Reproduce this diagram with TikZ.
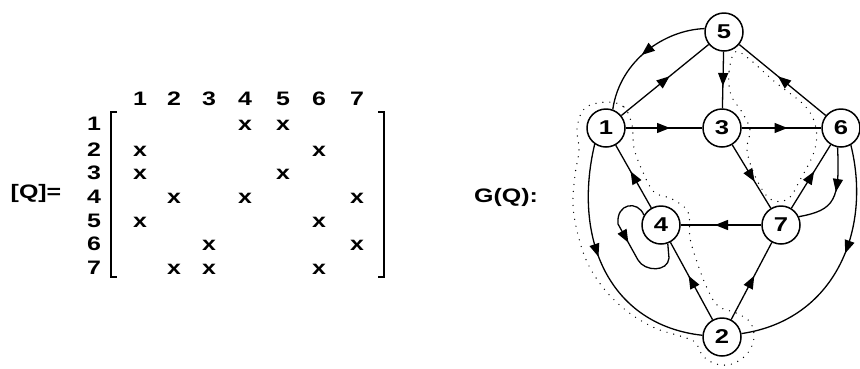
\documentclass[tikz,border=0pt]{standalone}
\usepackage{fontspec}
\setmainfont[FakeStretch=1.28]{Liberation Sans}
\usetikzlibrary{arrows.meta,decorations.markings}
\begin{document}
\begin{tikzpicture}[x=1pt,y=-1pt,
  lbl/.style={font=\fontsize{19.5}{21}\selectfont\bfseries, inner sep=0pt},
  vtx/.style={circle, draw, line width=1.5pt, minimum size=38pt, inner sep=0pt, font=\fontsize{20}{21}\selectfont\bfseries},
  conn/.style={line width=1.3pt},
  midarrow/.style={postaction={decorate}, decoration={markings, mark=at position #1 with {\arrow[xshift=6pt]{Triangle[length=13pt,width=10pt]}}}},
  midarrow/.default=0.5,
  loopdots/.style={line width=1.4pt, dash pattern=on 0pt off 7pt, line cap=round},
  brk/.style={line width=1.3pt}
]
\useasboundingbox (0,0) rectangle (860,368);

% ---------- matrix ----------
\node[lbl] (qlab) at (36,193) {[Q]=};
\node[lbl] (glab) at (506,197) {G(Q):};
\foreach \c/\xx in {1/140,2/174,3/209,4/245,5/283,6/319,7/357}
  \node[lbl, anchor=base] (col\c) at (\xx,105) {\c};
\foreach \r/\yy in {1/123,2/149,3/172,4/196,5/220,6/243,7/267}
  \node[lbl, anchor=base] (row\r) at (94,\yy+7) {\r};
\foreach \r/\c in {1/4,1/5,2/1,2/6,3/1,3/5,4/2,4/4,4/7,5/1,5/6,6/3,6/7,7/2,7/3,7/6}{
  \path (col\c.base) coordinate (cx\r\c);
  \path (row\r.base) coordinate (ry\r\c);
  \node[lbl, anchor=base] (m\r\c) at (cx\r\c |- ry\r\c) {x};
}
\coordinate (lbt) at (117,112);
\coordinate (lbb) at (117,277);
\coordinate (rbt) at (378,112);
\coordinate (rbb) at (378,277);
\draw[brk] (lbt) -- ++(-6,0) |- (lbb);
\draw[brk] (rbt) -- ++(6,0) |- (rbb);

% ---------- graph ----------
\node[vtx] (n5) at (724,32) {5};
\node[vtx] (n1) at (606,128) {1};
\node[vtx] (n3) at (722,128) {3};
\node[vtx] (n6) at (841,128) {6};
\node[vtx] (n4) at (661,225) {4};
\node[vtx] (n7) at (781,225) {7};
\node[vtx] (n2) at (722,337) {2};

% dotted contours
\draw[loopdots] plot[smooth cycle, tension=0.6] coordinates {
 (607,102) (624,107) (632,125) (634,148) (642,170) (654,192) (672,199) (688,212)
 (690,238) (697,262) (707,288) (718,306) (736,313) (750,322) (754,338) (747,354)
 (732,364) (716,364) (703,356) (695,342) (680,336) (655,328) (628,312) (605,290)
 (588,264) (578,235) (573,205) (575,175) (579,150) (577,128) (585,108) };
\draw[loopdots] plot[smooth cycle, tension=0.6] coordinates {
 (735,52) (729,72) (731,95) (742,112) (750,130) (747,150) (755,176) (770,199)
 (788,199) (800,180) (814,152) (816,128) (805,106) (775,82) (748,58) };

% straight edges
\draw[conn, midarrow] (n1) -- (n5);
\draw[conn, midarrow] (n5) -- (n3);
\draw[conn, midarrow] (n6) -- (n5);
\draw[conn, midarrow] (n1) -- (n3);
\draw[conn, midarrow] (n3) -- (n6);
\draw[conn, midarrow] (n4) -- (n1);
\draw[conn, midarrow] (n3) -- (n7);
\draw[conn, midarrow] (n7) -- (n6);
\draw[conn, midarrow] (n7) -- (n4);
\draw[conn, midarrow] (n2) -- (n4);
\draw[conn, midarrow] (n2) -- (n7);

% curved edges
\draw[conn, midarrow=0.48] (n5.170) .. controls (665,30) and (620,60) .. (n1.70);
\draw[conn, midarrow=0.43] (n1.-125) .. controls (572,240) and (610,325) .. (n2.175);
\draw[conn, midarrow=0.42] (n6.-60) .. controls (872,230) and (835,320) .. (n2.10);
\draw[conn, midarrow=0.42] (n6.-100) .. controls (840,200) and (835,210) .. (n7.25);

% self loop on 4
\draw[conn, midarrow=0.42] (n4.150) .. controls (638,200) and (616,203) .. (618,224)
  -- (638,260) .. controls (645,272) and (668,272) .. (669,258) -- (n4.-70);
\end{tikzpicture}
\end{document}
